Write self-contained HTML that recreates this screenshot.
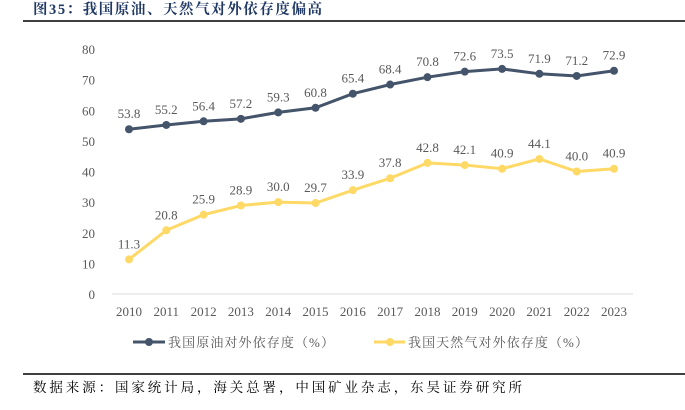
<!DOCTYPE html>
<html><head><meta charset="utf-8"><style>
body{margin:0;width:685px;height:405px;background:#fff;overflow:hidden;font-family:"Liberation Serif","Noto Serif CJK SC",serif;}
</style></head><body>
<svg width="685" height="405" xmlns="http://www.w3.org/2000/svg">
<text x="33" y="14" font-size="14.5" font-weight="bold" fill="#1f3864" textLength="289" lengthAdjust="spacing" font-family="Liberation Serif,Noto Serif CJK SC,serif">图35：我国原油、天然气对外依存度偏高</text>
<line x1="23" y1="21" x2="685" y2="21" stroke="#000" stroke-width="1.5"/>
<g id="axes"></g>
<g id="series"></g>
<g>
<line x1="133" y1="342" x2="165" y2="342" stroke="#44546a" stroke-width="3"/>
<circle cx="149" cy="342" r="4" fill="#44546a"/>
<text x="168" y="347" font-size="13" fill="#595959" textLength="166" lengthAdjust="spacing">我国原油对外依存度（%）</text>
<line x1="374" y1="342" x2="405" y2="342" stroke="#ffd966" stroke-width="3"/>
<circle cx="390" cy="342" r="4" fill="#ffd966"/>
<text x="408" y="347" font-size="13" fill="#595959" textLength="180" lengthAdjust="spacing">我国天然气对外依存度（%）</text>
</g>
<line x1="23" y1="374" x2="685" y2="374" stroke="#000" stroke-width="1.5"/>
<text x="33" y="392" font-size="13.5" fill="#000" textLength="489" lengthAdjust="spacing">数据来源：国家统计局，海关总署，中国矿业杂志，东吴证券研究所</text>
</svg>
<script>
const years=[2010,2011,2012,2013,2014,2015,2016,2017,2018,2019,2020,2021,2022,2023];
const oil=[53.8,55.2,56.4,57.2,59.3,60.8,65.4,68.4,70.8,72.6,73.5,71.9,71.2,72.9];
const gas=[11.3,20.8,25.9,28.9,30.0,29.7,33.9,37.8,42.8,42.1,40.9,44.1,40.0,40.9];
const yTicks=[0,10,20,30,40,50,60,70,80];
const NS="http://www.w3.org/2000/svg";
function x(i){return 129+i*(614-129)/(years.length-1);}
function y(v){return 294-v*(294-49)/80;}
function mk(tag,attrs,parent){const e=document.createElementNS(NS,tag);for(const k in attrs)e.setAttribute(k,attrs[k]);parent.appendChild(e);return e;}
const ax=document.getElementById('axes'),sr=document.getElementById('series');
const base=mk('line',{x1:112,x2:633,y1:y(0),y2:y(0),stroke:'#d9d9d9','stroke-width':1},ax);


yTicks.forEach(t=>{const e=mk('text',{x:95,y:y(t)+5,'font-size':13,fill:'#595959','text-anchor':'end'},ax);e.textContent=t;

});
years.forEach((yr,i)=>{const e=mk('text',{x:x(i),y:316,'font-size':13,fill:'#595959','text-anchor':'middle'},ax);e.textContent=yr;

});
function draw(vals,color,name){
const p=mk('polyline',{points:vals.map((v,i)=>x(i)+','+y(v)).join(' '),fill:'none',stroke:color,'stroke-width':3},sr);


vals.forEach((v,i)=>{const c=mk('circle',{cx:x(i),cy:y(v),r:4,fill:color},sr);


const t=mk('text',{x:x(i),y:y(v)-11,'font-size':13,fill:'#595959','text-anchor':'middle'},sr);t.textContent=v.toFixed(1);

});}
draw(oil,'#44546a','oil');
draw(gas,'#ffd966','gas');
</script>
</body></html>
